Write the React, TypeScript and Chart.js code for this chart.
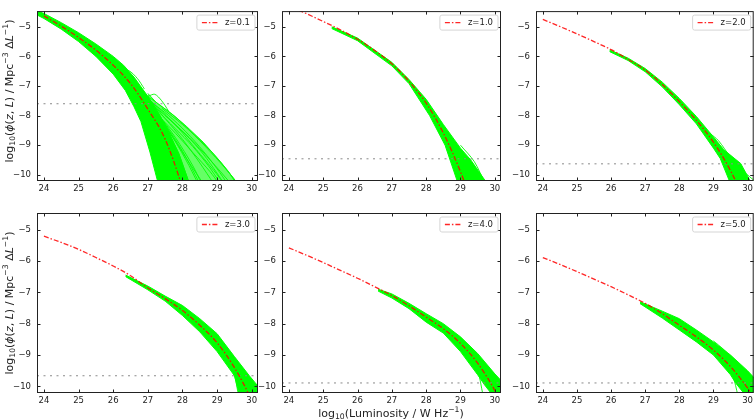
import React, { useEffect, useRef } from 'react';
import { Chart, registerables } from 'chart.js';

Chart.register(...registerables);

// ---------- data ----------
const redshiftLabels = ['z=0.1', 'z=1.0', 'z=2.0', 'z=3.0', 'z=4.0', 'z=5.0'];
const xTicks = [24, 25, 26, 27, 28, 29, 30];
const yTicks = [-5, -6, -7, -8, -9, -10];

const lumGrid = [24, 24.5, 25, 25.5, 26, 26.5, 27, 27.5, 28, 28.5, 29, 29.5, 30, 30.5];
const modelZ01 = [-4.63, -4.98, -5.36, -5.79, -6.3, -6.92, -7.78, -8.8, -10.45, -12.6, -15, -17.5, -20, -22.5];
const modelZ10 = [-4.3, -4.55, -4.82, -5.1, -5.42, -5.8, -6.25, -6.84, -7.58, -8.59, -9.9, -11.5, -13.3, -15.3];
const modelZ20 = [-4.75, -4.99, -5.24, -5.5, -5.77, -6.1, -6.46, -6.95, -7.53, -8.16, -8.9, -9.86, -11.1, -12.6];
const modelZ30 = [-5.21, -5.41, -5.63, -5.89, -6.16, -6.47, -6.86, -7.2, -7.58, -8.05, -8.61, -9.4, -10.45, -11.8];
const modelZ40 = [-5.58, -5.81, -6.05, -6.3, -6.55, -6.82, -7.1, -7.43, -7.79, -8.16, -8.63, -9.26, -10.13, -11.3];
const modelZ50 = [-5.89, -6.11, -6.34, -6.58, -6.82, -7.08, -7.35, -7.68, -8.05, -8.42, -8.84, -9.37, -10.05, -10.9];

// completeness limits (dotted grey)
const limitPhi = [-7.6, -9.46, -9.63, -9.66, -9.89, -9.89];

// green sample envelopes (outline: upper edge left->right, then lower edge right->left)
const bandZ01L = [23.8, 24, 24.5, 25, 25.5, 26, 26.3, 26.6, 27, 27.3, 27.6, 27.9, 28.2, 27.3, 27.06, 26.8, 26.6, 26.35, 26, 25.5, 25, 24.5, 24, 23.8];
const bandZ01Phi = [-4.47, -4.55, -4.86, -5.2, -5.58, -6.0, -6.3, -6.7, -7.35, -7.9, -8.55, -9.3, -10.3, -10.3, -9.23, -8.2, -7.7, -7.15, -6.6, -6.0, -5.5, -5.08, -4.72, -4.6];
const fanZ01L = [27, 27.26, 27.7, 28.12, 28.6, 29.08, 29.6, 28.2, 27.9, 27.6, 27.3, 27];
const fanZ01Phi = [-7.25, -7.58, -7.95, -8.37, -8.9, -9.54, -10.3, -10.3, -9.3, -8.55, -7.9, -7.35];
const bandZ10L = [25.25, 26, 27, 27.5, 28, 28.5, 29, 29.3, 29.78, 28.93, 28.55, 28.1, 27.5, 27, 26, 25.25];
const bandZ10Phi = [-5.0, -5.38, -6.2, -6.78, -7.45, -8.3, -9.1, -9.5, -10.3, -10.3, -9.0, -8.0, -6.92, -6.32, -5.47, -5.06];
const bandZ20L = [25.96, 26.5, 27, 27.5, 28, 28.5, 29, 29.3, 29.8, 30.12, 29.5, 29.2, 29, 28.5, 28, 27.5, 27, 26.5, 25.96];
const bandZ20Phi = [-5.78, -6.06, -6.41, -6.87, -7.42, -8.03, -8.72, -9.15, -9.62, -10.3, -10.3, -9.45, -9.1, -8.28, -7.63, -7.03, -6.52, -6.14, -5.84];
const bandZ30L = [26.36, 27, 27.5, 28, 28.5, 29, 29.5, 29.93, 30.3, 30.3, 29.65, 29.5, 29, 28.5, 28, 27.5, 27, 26.36];
const bandZ30Phi = [-6.45, -6.8, -7.12, -7.42, -7.84, -8.32, -9.05, -9.66, -10.15, -10.3, -10.3, -9.66, -8.89, -8.26, -7.74, -7.28, -6.92, -6.5];
const bandZ40L = [26.6, 27, 27.5, 28, 28.5, 29, 29.5, 30, 30.3, 30.3, 29.95, 29.7, 29.5, 29, 28.5, 28, 27.5, 27, 26.6];
const bandZ40Phi = [-6.9, -7.05, -7.35, -7.68, -8.0, -8.42, -8.95, -9.6, -9.95, -10.3, -10.3, -9.95, -9.63, -8.89, -8.3, -7.95, -7.52, -7.18, -6.96];
const bandZ50L = [26.85, 27.5, 28, 28.5, 29, 29.5, 30, 30.3, 30.3, 29.95, 29.65, 29.5, 29, 28.5, 28, 27.5, 26.85];
const bandZ50Phi = [-7.3, -7.6, -7.84, -8.2, -8.58, -9.0, -9.5, -9.85, -10.3, -10.3, -9.89, -9.63, -9.0, -8.58, -8.2, -7.82, -7.36];

// individual green sample curves that stand out of the envelopes
const samplesZ01: number[][][] = [
  [[26.9, -7.3], [27.4, -7.85], [27.9, -8.45], [28.4, -9.15], [28.9, -9.85], [29.2, -10.3]],
  [[27.0, -7.4], [27.5, -8.1], [28.0, -8.8], [28.5, -9.6], [28.9, -10.3]],
  [[27.0, -7.5], [27.5, -8.3], [28.0, -9.2], [28.5, -10.3]],
  [[26.95, -7.45], [27.6, -8.1], [28.2, -8.75], [28.8, -9.5], [29.4, -10.3]],
  [[27.1, -7.6], [27.6, -8.5], [28.1, -9.5], [28.45, -10.3]],
  [[26.8, -7.2], [27.3, -7.6], [27.9, -8.15], [28.5, -8.85], [29.1, -9.6], [29.6, -10.3]],
  [[27.2, -7.9], [27.7, -8.7], [28.2, -9.6], [28.6, -10.3]],
  [[27.3, -8.0], [27.8, -8.6], [28.3, -9.25], [28.8, -9.9], [29.05, -10.3]],
  [[27.4, -7.75], [28.0, -8.3], [28.7, -9.05], [29.3, -9.85], [29.55, -10.3]],
  [[27.1, -7.55], [27.6, -8.0], [28.1, -8.55], [28.6, -9.2], [29.0, -9.8], [29.3, -10.3]],
  [[27.2, -7.75], [27.8, -8.45], [28.3, -9.05], [28.75, -9.7], [29.1, -10.3]],
  [[27.3, -7.95], [27.8, -8.75], [28.3, -9.7], [28.55, -10.3]],
  [[27.5, -8.0], [28.1, -8.65], [28.6, -9.3], [29.0, -9.95], [29.2, -10.3]],
  [[26.2, -6.45], [26.45, -6.48], [26.7, -6.75], [26.9, -7.1]],
  [[27.0, -7.35], [27.2, -7.28], [27.4, -7.5], [27.6, -7.85]],
];
const samplesZ10: number[][][] = [[[29.0, -9.0], [29.4, -9.55], [29.72, -10.3]]];
const samplesZ20: number[][][] = [[[28.9, -8.6], [29.15, -8.85], [29.5, -9.4], [29.9, -9.9], [30.2, -10.2]]];
const samplesZ30: number[][][] = [[[29.2, -8.85], [29.45, -9.4], [29.62, -10.3]]];
const samplesZ40: number[][][] = [[[29.2, -8.95], [29.47, -9.37], [29.66, -10.3]]];
const samplesZ50: number[][][] = [
  [[29.3, -9.1], [29.56, -9.63], [29.72, -10.3]],
  [[29.0, -8.55], [29.3, -8.82], [29.7, -9.25], [30.25, -9.8]],
];

const models = [modelZ01, modelZ10, modelZ20, modelZ30, modelZ40, modelZ50];
const bandsL = [bandZ01L, bandZ10L, bandZ20L, bandZ30L, bandZ40L, bandZ50L];
const bandsPhi = [bandZ01Phi, bandZ10Phi, bandZ20Phi, bandZ30Phi, bandZ40Phi, bandZ50Phi];
const samples = [samplesZ01, samplesZ10, samplesZ20, samplesZ30, samplesZ40, samplesZ50];

// ---------- layout ----------
const W = 756;
const H = 420;
const Y_AXIS_W = 30;
const X_AXIS_H = 20;
const X_MIN = 23.8;
const X_MAX = 30.18;
const Y_MIN = -10.21;
const Y_MAX = -4.47;
const FRAMES = [
  { left: 37, right: 258, top: 0, bottom: 181 },
  { left: 282, right: 501, top: 0, bottom: 181 },
  { left: 536, right: 755, top: 0, bottom: 181 },
  { left: 37, right: 258, top: 213, bottom: 393 },
  { left: 282, right: 501, top: 213, bottom: 393 },
  { left: 536, right: 755, top: 213, bottom: 393 },
];
const FONT = '"DejaVu Sans", sans-serif';
const GREEN = '#00ff00';

const fmt = (v: number) => (v < 0 ? '\u2212' + Math.abs(v) : String(v));

const decorPlugin = {
  id: 'panelDecor',
  afterDraw(chart: any, _args: any, opts: any) {
    const { ctx, chartArea: a, scales } = chart;
    ctx.save();
    ctx.setLineDash([]);
    ctx.strokeStyle = '#222';
    ctx.lineWidth = 1;
    ctx.strokeRect(a.left + 0.5, a.top + 0.5, a.right - a.left - 1, a.bottom - a.top - 1);
    const len = 3.5;
    ctx.beginPath();
    for (const v of xTicks) {
      const px = Math.round(scales.x.getPixelForValue(v)) + 0.5;
      ctx.moveTo(px, a.bottom);
      ctx.lineTo(px, a.bottom - len);
      ctx.moveTo(px, a.top);
      ctx.lineTo(px, a.top + len);
    }
    for (const v of yTicks) {
      const py = Math.round(scales.y.getPixelForValue(v)) + 0.5;
      ctx.moveTo(a.left, py);
      ctx.lineTo(a.left + len, py);
      ctx.moveTo(a.right, py);
      ctx.lineTo(a.right - len, py);
    }
    ctx.stroke();

    // legend
    const text = opts.label;
    ctx.font = '8.5px ' + FONT;
    const tw = ctx.measureText(text).width;
    const bw = 28 + tw + 5;
    const bh = 15;
    const bx = a.right - 3 - bw;
    const by = a.top + 4;
    const r = 2;
    ctx.beginPath();
    ctx.moveTo(bx + r, by);
    ctx.lineTo(bx + bw - r, by);
    ctx.quadraticCurveTo(bx + bw, by, bx + bw, by + r);
    ctx.lineTo(bx + bw, by + bh - r);
    ctx.quadraticCurveTo(bx + bw, by + bh, bx + bw - r, by + bh);
    ctx.lineTo(bx + r, by + bh);
    ctx.quadraticCurveTo(bx, by + bh, bx, by + bh - r);
    ctx.lineTo(bx, by + r);
    ctx.quadraticCurveTo(bx, by, bx + r, by);
    ctx.closePath();
    ctx.fillStyle = 'rgba(255,255,255,0.85)';
    ctx.fill();
    ctx.strokeStyle = '#d5d5d5';
    ctx.lineWidth = 1;
    ctx.stroke();
    ctx.strokeStyle = 'rgba(255,0,0,0.85)';
    ctx.lineWidth = 1.3;
    ctx.setLineDash([5, 2, 1.5, 2]);
    ctx.beginPath();
    ctx.moveTo(bx + 5, by + bh / 2);
    ctx.lineTo(bx + 22, by + bh / 2);
    ctx.stroke();
    ctx.setLineDash([]);
    ctx.fillStyle = '#222';
    ctx.textBaseline = 'middle';
    ctx.textAlign = 'left';
    ctx.fillText(text, bx + 28, by + bh / 2 + 0.5);
    ctx.restore();
  },
};

function Panel({ index }: { index: number }) {
  const ref = useRef<HTMLCanvasElement>(null);
  useEffect(() => {
    const f = FRAMES[index];
    const model = models[index];
    const datasets: any[] = [];
    datasets.push({
      data: lumGrid.map((L, i) => ({ x: L, y: model[i] })),
      borderColor: 'rgba(255,0,0,0.85)',
      borderWidth: 1.3,
      borderDash: [5, 2, 1.5, 2],
      pointRadius: 0,
      cubicInterpolationMode: 'monotone',
      fill: false,
      clip: 0,
    });
    datasets.push({
      data: [
        { x: X_MIN, y: limitPhi[index] },
        { x: X_MAX, y: limitPhi[index] },
      ],
      borderColor: '#8a8a8a',
      borderWidth: 1,
      borderDash: [2, 4.5],
      pointRadius: 0,
      fill: false,
      clip: 0,
    });
    for (const s of samples[index]) {
      datasets.push({
        data: s.map((p) => ({ x: p[0], y: p[1] })),
        borderColor: GREEN,
        borderWidth: 0.9,
        pointRadius: 0,
        tension: 0.3,
        fill: false,
        clip: 0,
      });
    }
    const bl = bandsL[index];
    const bp = bandsPhi[index];
    datasets.push({
      data: bl.map((L, i) => ({ x: L, y: bp[i] })),
      borderColor: GREEN,
      backgroundColor: GREEN,
      borderWidth: 1,
      pointRadius: 0,
      tension: 0,
      fill: 'shape',
      clip: 0,
    });
    if (index === 0) {
      datasets.push({
        data: fanZ01L.map((L, i) => ({ x: L, y: fanZ01Phi[i] })),
        borderColor: 'rgba(0,255,0,0.9)',
        backgroundColor: 'rgba(0,255,0,0.6)',
        borderWidth: 1,
        pointRadius: 0,
        tension: 0,
        fill: 'shape',
        clip: 0,
      });
    }
    const tickFont = { family: FONT, size: 8.5 };
    const chart = new Chart(ref.current as HTMLCanvasElement, {
      type: 'line',
      data: { datasets },
      options: {
        animation: false,
        responsive: false,
        events: [],
        layout: {
          padding: {
            left: f.left - Y_AXIS_W,
            right: W - f.right,
            top: f.top,
            bottom: H - f.bottom - X_AXIS_H,
          },
        },
        plugins: {
          legend: { display: false },
          tooltip: { enabled: false },
          panelDecor: { label: redshiftLabels[index] },
        } as any,
        scales: {
          x: {
            type: 'linear',
            min: X_MIN,
            max: X_MAX,
            grid: { display: false, drawTicks: false },
            border: { display: false },
            afterFit: (s: any) => {
              s.height = X_AXIS_H;
            },
            afterBuildTicks: (s: any) => {
              s.ticks = xTicks.map((v) => ({ value: v }));
            },
            ticks: {
              padding: 3,
              color: '#222',
              font: tickFont,
              maxRotation: 0,
              autoSkip: false,
              callback: (v: any) => fmt(Number(v)),
            },
          },
          y: {
            type: 'linear',
            min: Y_MIN,
            max: Y_MAX,
            grid: { display: false, drawTicks: false },
            border: { display: false },
            afterFit: (s: any) => {
              s.width = Y_AXIS_W;
            },
            afterBuildTicks: (s: any) => {
              s.ticks = yTicks.map((v) => ({ value: v }));
            },
            ticks: {
              padding: 6,
              color: '#222',
              font: tickFont,
              autoSkip: false,
              callback: (v: any) => fmt(Number(v)),
            },
          },
        },
      } as any,
      plugins: [decorPlugin as any],
    });
    return () => chart.destroy();
  }, [index]);
  return (
    <canvas
      ref={ref}
      width={W}
      height={H}
      style={{ position: 'absolute', left: 0, top: 0, width: W, height: H }}
    />
  );
}

const sub: React.CSSProperties = { fontSize: '70%', verticalAlign: '-0.3em', lineHeight: 0 };
const sup: React.CSSProperties = { fontSize: '70%', verticalAlign: '0.55em', lineHeight: 0 };

function YTitle({ cy }: { cy: number }) {
  return (
    <div
      style={{
        position: 'absolute',
        left: 9,
        top: cy,
        transform: 'translate(-50%, -50%) rotate(-90deg)',
        whiteSpace: 'nowrap',
        fontFamily: FONT,
        fontSize: 11,
        color: '#222',
        lineHeight: 1,
      }}
    >
      log<span style={sub}>10</span>(<i>ϕ</i>(<i>z</i>, <i>L</i>) / Mpc<span style={sup}>−3</span> Δ<i>L</i>
      <span style={sup}>−1</span>)
    </div>
  );
}

export default function App() {
  return (
    <div
      style={{
        position: 'absolute',
        left: 0,
        top: 0,
        width: W,
        height: H,
        background: '#fff',
        overflow: 'hidden',
      }}
    >
      {FRAMES.map((_, i) => (
        <Panel key={i} index={i} />
      ))}
      <YTitle cy={91} />
      <YTitle cy={303} />
      <div
        style={{
          position: 'absolute',
          left: 391,
          top: 413,
          transform: 'translate(-50%, -50%)',
          whiteSpace: 'nowrap',
          fontFamily: FONT,
          fontSize: 11,
          color: '#222',
          lineHeight: 1,
        }}
      >
        log<span style={sub}>10</span>(Luminosity / W Hz<span style={sup}>−1</span>)
      </div>
    </div>
  );
}
